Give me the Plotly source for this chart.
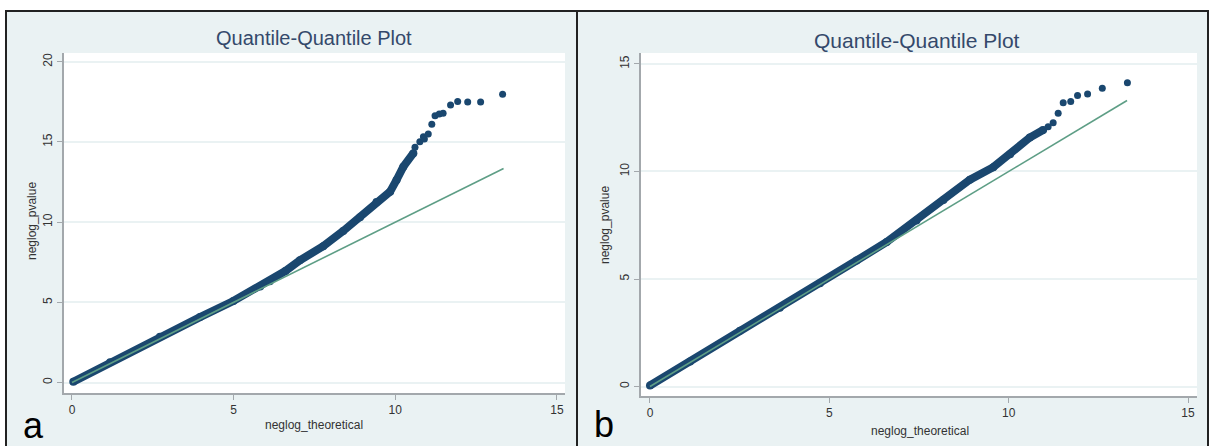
import plotly.graph_objects as go

W, H = 1211, 446

# ---------------- data ----------------
# panel a: dense body of the Q-Q curve
a_body_x = [0.04, 1.18, 2.72, 3.96, 4.99, 5.82, 6.12, 6.60, 7.05, 7.77, 8.39, 8.91, 9.42, 9.84, 10.04, 10.25, 10.56]
a_body_y = [0.05, 1.26, 2.86, 4.08, 5.08, 5.98, 6.32, 6.95, 7.62, 8.50, 9.45, 10.30, 11.25, 11.90, 12.63, 13.46, 14.30]
# panel a: sparse tail points
a_tail_x = [10.61, 10.76, 10.87, 10.90, 11.02, 11.13, 11.23, 11.36, 11.48, 11.71, 11.93, 12.24, 12.64, 13.32]
a_tail_y = [14.67, 15.02, 15.33, 15.19, 15.50, 16.11, 16.63, 16.75, 16.79, 17.31, 17.52, 17.50, 17.50, 17.98]
a_ref = [0, 13.35]

# panel b
b_body_x = [0.0, 1.12, 2.51, 3.62, 4.74, 5.76, 6.60, 7.43, 8.18, 8.92, 9.57, 10.04, 10.59, 10.96]
b_body_y = [0.05, 1.16, 2.60, 3.66, 4.80, 5.86, 6.72, 7.72, 8.68, 9.62, 10.20, 10.80, 11.58, 11.93]
b_tail_x = [10.96, 11.10, 11.24, 11.38, 11.52, 11.73, 11.92, 12.20, 12.61, 13.31]
b_tail_y = [11.93, 12.08, 12.27, 12.71, 13.20, 13.25, 13.53, 13.60, 13.87, 14.13]
b_ref = [0, 13.3]

x_ticks = [0, 5, 10, 15]
a_y_ticks = [0, 5, 10, 15, 20]
b_y_ticks = [0, 5, 10, 15]

title_text = "Quantile-Quantile Plot"
x_title = "neglog_theoretical"
y_title = "neglog_pvalue"
panel_labels = ["a", "b"]

# ---------------- styles ----------------
NAVY = "#1A476F"
TEAL = "#5E9E86"
BG = "#EAF2F3"
AXIS = "#A3A8AC"
FONT = "Liberation Sans, Arial, sans-serif"


def px(x):
    return x / W


def py(y):
    return 1 - y / H


# plot-area pixel boxes (left, top, right, bottom)
boxA = (64, 53, 565, 393)
boxB = (641, 53, 1197, 396)

fig = go.Figure()

for tag, bx, by, tx, ty, ref in [
    ("", a_body_x, a_body_y, a_tail_x, a_tail_y, a_ref),
    ("2", b_body_x, b_body_y, b_tail_x, b_tail_y, b_ref),
]:
    fig.add_trace(go.Scatter(x=bx, y=by, mode="lines+markers",
                             line=dict(color=NAVY, width=8),
                             marker=dict(color=NAVY, size=8),
                             xaxis="x" + tag, yaxis="y" + tag, showlegend=False))
    fig.add_trace(go.Scatter(x=tx, y=ty, mode="markers",
                             marker=dict(color=NAVY, size=7),
                             xaxis="x" + tag, yaxis="y" + tag, showlegend=False))
    fig.add_trace(go.Scatter(x=ref, y=ref, mode="lines",
                             line=dict(color=TEAL, width=1.6),
                             xaxis="x" + tag, yaxis="y" + tag, showlegend=False))

axis_common = dict(showline=True, linecolor=AXIS, linewidth=1.5, ticks="outside",
                   ticklen=5, tickcolor=AXIS, tickwidth=1.2, zeroline=False,
                   tickfont=dict(family=FONT, size=12, color="#333333"))

fig.update_layout(
    width=W, height=H, margin=dict(l=0, r=0, t=0, b=0),
    paper_bgcolor="white", plot_bgcolor="rgba(0,0,0,0)",
    xaxis=dict(domain=[px(boxA[0]), px(boxA[2])], range=[-0.247, 15.25],
               tickvals=x_ticks, showgrid=False, anchor="y", **axis_common),
    yaxis=dict(domain=[py(boxA[3]), py(boxA[1])], range=[-0.655, 20.55],
               tickvals=a_y_ticks, showgrid=True, gridcolor=BG, gridwidth=1.5,
               tickangle=-90, anchor="x", **axis_common),
    xaxis2=dict(domain=[px(boxB[0]), px(boxB[2])], range=[-0.25, 15.25],
                tickvals=x_ticks, showgrid=False, anchor="y2", **axis_common),
    yaxis2=dict(domain=[py(boxB[3]), py(boxB[1])], range=[-0.44, 15.51],
                tickvals=b_y_ticks, showgrid=True, gridcolor=BG, gridwidth=1.5,
                tickangle=-90, anchor="x2", **axis_common),
)

shapes = []
# panel backgrounds with frame
for (l, r) in [(6, 577), (577, 1208)]:
    shapes.append(dict(type="rect", xref="paper", yref="paper", layer="below",
                       x0=px(l), x1=px(r), y0=py(447), y1=py(11),
                       fillcolor=BG, line=dict(color="#222222", width=2)))
# white plot areas
for b in (boxA, boxB):
    shapes.append(dict(type="rect", xref="paper", yref="paper", layer="below",
                       x0=px(b[0]), x1=px(b[2]), y0=py(b[3]), y1=py(b[1]),
                       fillcolor="white", line=dict(width=0)))
fig.update_layout(shapes=shapes)

ann = []
# titles
ann.append(dict(text=title_text, x=px(314), y=py(38), xref="paper", yref="paper",
                showarrow=False, xanchor="center", yanchor="middle",
                font=dict(family=FONT, size=20, color="#34496B")))
ann.append(dict(text=title_text, x=px(917), y=py(40), xref="paper", yref="paper",
                showarrow=False, xanchor="center", yanchor="middle",
                font=dict(family=FONT, size=21, color="#34496B")))
# x titles
ann.append(dict(text=x_title, x=px(314), y=py(425), xref="paper", yref="paper",
                showarrow=False, xanchor="center", yanchor="middle",
                font=dict(family=FONT, size=12, color="#333333")))
ann.append(dict(text=x_title, x=px(920), y=py(431), xref="paper", yref="paper",
                showarrow=False, xanchor="center", yanchor="middle",
                font=dict(family=FONT, size=12, color="#333333")))
# y titles
ann.append(dict(text=y_title, x=px(32), y=py(221), xref="paper", yref="paper",
                showarrow=False, xanchor="center", yanchor="middle", textangle=-90,
                font=dict(family=FONT, size=12, color="#333333")))
ann.append(dict(text=y_title, x=px(605), y=py(225), xref="paper", yref="paper",
                showarrow=False, xanchor="center", yanchor="middle", textangle=-90,
                font=dict(family=FONT, size=12, color="#333333")))
# panel letters
ann.append(dict(text=panel_labels[0], x=px(33), y=py(425), xref="paper", yref="paper",
                showarrow=False, xanchor="center", yanchor="middle",
                font=dict(family=FONT, size=36, color="black")))
ann.append(dict(text=panel_labels[1], x=px(604), y=py(424), xref="paper", yref="paper",
                showarrow=False, xanchor="center", yanchor="middle",
                font=dict(family=FONT, size=36, color="black")))
fig.update_layout(annotations=ann)

fig.write_html("out.html")
